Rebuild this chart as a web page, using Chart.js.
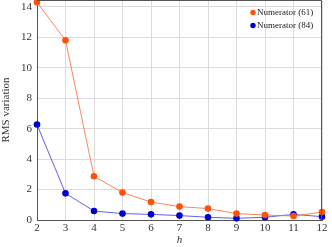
<!DOCTYPE html>
<html>
<head>
<meta charset="UTF-8">
<script src="https://cdn.jsdelivr.net/npm/chart.js@4.4.0/dist/chart.umd.min.js"></script>
<style>
  html, body { margin: 0; padding: 0; background: #fff; }
  #wrap { width: 332px; height: 247px; }
</style>
</head>
<body>
<div id="wrap"><canvas id="c"></canvas></div>
<script>
// h values
var hValues = [2, 3, 4, 5, 6, 7, 8, 9, 10, 11, 12];
// RMS variation
var num61 = [14.3, 11.8, 2.87, 1.8, 1.18, 0.88, 0.75, 0.42, 0.33, 0.26, 0.52];
var num84 = [6.27, 1.75, 0.59, 0.42, 0.37, 0.29, 0.18, 0.11, 0.18, 0.37, 0.22];
var yTicks = [0, 2, 4, 6, 8, 10, 12, 14];

var serif = "'Liberation Serif', 'DejaVu Serif', serif";
Chart.defaults.font.family = serif;
Chart.defaults.font.size = 11;
Chart.defaults.color = '#333';

// markers may overflow the plot edge, no extra margin for them
Chart.controllers.line.prototype.getMaxOverflow = function () { return 0; };

function pts(ys) {
  return hValues.map(function (h, i) { return { x: h, y: ys[i] }; });
}

// legend + frame drawn inside the plot
var boxPlugin = {
  id: 'box',
  afterDatasetsDraw: function (chart) {
    var ctx = chart.ctx, a = chart.chartArea;
    ctx.save();
    ctx.strokeStyle = '#555';
    ctx.lineWidth = 1;
    ctx.beginPath();
    ctx.moveTo(a.left, a.top + 0.5);
    ctx.lineTo(a.right - 0.5, a.top + 0.5);
    ctx.lineTo(a.right - 0.5, a.bottom);
    ctx.stroke();

    ctx.font = '9px ' + serif;
    ctx.textBaseline = 'middle';
    chart.data.datasets.forEach(function (ds, i) {
      var y = 12.5 + i * 13;
      ctx.fillStyle = ds.pointBackgroundColor;
      ctx.beginPath();
      ctx.arc(253, y, 2.7, 0, Math.PI * 2);
      ctx.fill();
      ctx.fillStyle = '#222';
      ctx.fillText(ds.label, 257, y + 0.5);
    });
    ctx.restore();
  }
};

function noPad(s) {
  s.paddingTop = 0;
  s.paddingBottom = 0;
  s.paddingLeft = 0;
  s.paddingRight = 0;
}

new Chart(document.getElementById('c'), {
  type: 'line',
  data: {
    datasets: [
      {
        label: 'Numerator (61)',
        data: pts(num61),
        borderColor: 'rgba(255,110,60,0.85)',
        pointBackgroundColor: 'rgb(255,80,10)',
        pointBorderColor: 'rgb(255,80,10)',
        borderWidth: 1,
        pointRadius: 3.3,
        pointBorderWidth: 0,
        clip: false
      },
      {
        label: 'Numerator (84)',
        data: pts(num84),
        borderColor: 'rgba(70,70,230,0.85)',
        pointBackgroundColor: 'rgb(0,0,205)',
        pointBorderColor: 'rgb(0,0,205)',
        borderWidth: 1,
        pointRadius: 3.3,
        pointBorderWidth: 0,
        clip: false
      }
    ]
  },
  options: {
    responsive: true,
    maintainAspectRatio: false,
    animation: false,
    layout: { padding: { left: 0, right: 10, top: 0, bottom: 0 } },
    plugins: { legend: { display: false }, tooltip: { enabled: false } },
    scales: {
      x: {
        type: 'linear',
        min: 2,
        max: 12,
        ticks: { stepSize: 1, padding: 2, color: '#333' },
        grid: { color: '#dcdcdc', drawTicks: false },
        border: { color: '#555', width: 1 },
        title: {
          display: true,
          text: 'h',
          font: { style: 'italic', size: 11 },
          padding: { top: 1, bottom: 0 },
          color: '#333'
        },
        afterFit: function (s) { s.height = 27; noPad(s); }
      },
      y: {
        type: 'linear',
        min: 0,
        max: 14.45,
        afterBuildTicks: function (s) {
          s.ticks = yTicks.map(function (v) { return { value: v }; });
        },
        ticks: { padding: 5, color: '#333' },
        grid: { color: '#dcdcdc', drawTicks: false },
        border: { color: '#555', width: 1 },
        title: {
          display: true,
          text: 'RMS variation',
          padding: { top: 0, bottom: 0 },
          color: '#333'
        },
        afterFit: function (s) { s.width = 37; noPad(s); }
      }
    }
  },
  plugins: [boxPlugin]
});
</script>
</body>
</html>
